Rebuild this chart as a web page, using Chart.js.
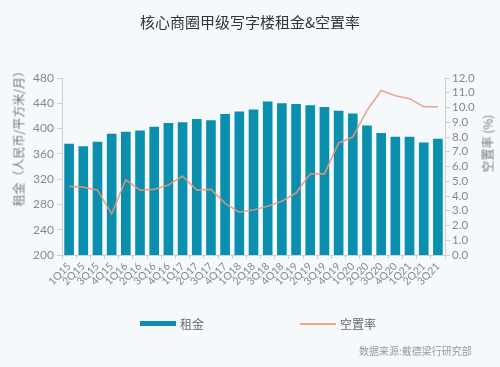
<!DOCTYPE html>
<html>
<head>
<meta charset="utf-8">
<script src="https://cdn.jsdelivr.net/npm/chart.js@4/dist/chart.umd.min.js"></script>
<style>
  html, body { margin: 0; padding: 0; background: #f5f9fc; }
  #wrap { position: relative; width: 500px; height: 367px; background: #f5f9fc; overflow: hidden; font-family: "Noto Sans CJK SC", "Noto Sans", sans-serif; }
  #c { position: absolute; left: 0; top: 0; }
  .title { position: absolute; left: 0; width: 500px; top: 11px; text-align: center; font-size: 15px; color: #333; }
  .ytl { position: absolute; font-size: 12px; color: #777; white-space: nowrap; transform-origin: center center; }
  .legend { position: absolute; top: 315px; font-size: 12px; color: #666; display: flex; align-items: center; }
  .source { position: absolute; left: 359px; top: 343px; font-size: 10px; color: #999; }
</style>
</head>
<body>
<div id="wrap">
  <canvas id="c" width="500" height="367"></canvas>
  <div class="title">核心商圈甲级写字楼租金&amp;空置率</div>
  <div class="ytl" id="ylt" style="left:-52px; top:128px; width:140px; text-align:center; transform: rotate(-90deg);">租金（人民币/平方米/月）</div>
  <div class="ytl" id="yrt" style="left:457px; top:135px; width:60px; text-align:center; transform: rotate(-90deg);">空置率 (%)</div>
  <div class="legend" style="left:140px;"><span style="display:inline-block;width:36px;height:5px;background:#0a8fae;margin-right:4px;"></span>租金</div>
  <div class="legend" style="left:300px;"><span style="display:inline-block;width:36px;height:2px;background:#f0a586;margin-right:4px;"></span>空置率</div>
  <div class="source">数据来源:戴德梁行研究部</div>
</div>
<script>
const categories = ["1Q15","2Q15","3Q15","4Q15","1Q16","2Q16","3Q16","4Q16","1Q17","2Q17","3Q17","4Q17","1Q18","2Q18","3Q18","4Q18","1Q19","2Q19","3Q19","4Q19","1Q20","2Q20","3Q20","4Q20","1Q21","2Q21","3Q21"];
const rent = [376,372,379,392,395,397,403,409,410,415,413,423,427,430,443,440,439,437,434,428,424,405,393,387,387,378,384];
const vacancy = [4.65,4.6,4.4,2.8,5.1,4.4,4.45,4.75,5.35,4.4,4.45,3.5,2.9,3.05,3.3,3.65,4.2,5.5,5.5,7.6,8.0,9.8,11.15,10.8,10.6,10.05,10.05];
const rentTicks = [200,240,280,320,360,400,440,480];
const vacTicks = [0,1,2,3,4,5,6,7,8,9,10,11,12];

const tickFont = { family: "Lato, 'Open Sans', sans-serif", size: 12 };

new Chart(document.getElementById('c'), {
  data: {
    labels: categories,
    datasets: [
      {
        type: 'line',
        label: '空置率',
        data: vacancy,
        yAxisID: 'y2',
        borderColor: 'rgba(240,150,115,0.85)',
        borderWidth: 1.6,
        pointRadius: 0,
        tension: 0,
        order: 0
      },
      {
        type: 'bar',
        label: '租金',
        data: rent,
        yAxisID: 'y',
        backgroundColor: '#0a8fae',
        categoryPercentage: 0.8,
        barPercentage: 0.85,
        order: 1
      }
    ]
  },
  options: {
    responsive: false,
    animation: false,
    devicePixelRatio: 1,
    layout: { padding: { top: 78, left: 0, right: 0, bottom: 0 } },
    plugins: { legend: { display: false }, tooltip: { enabled: false }, title: { display: false } },
    scales: {
      x: {
        grid: { display: true, drawOnChartArea: false, tickLength: 4, color: '#e3c6cc', offset: true },
        border: { color: '#cfcfcf' },
        ticks: { color: '#888', font: { family: "Lato, 'Open Sans', sans-serif", size: 10.5 }, maxRotation: 45, minRotation: 45, autoSkip: false, padding: 1 },
        afterFit: s => { s.height = 112; }
      },
      y: {
        position: 'left',
        min: 200, max: 480,
        afterBuildTicks: s => { s.ticks = rentTicks.map(v => ({ value: v })); },
        grid: { display: true, drawOnChartArea: false, tickLength: 5, color: '#cfcfcf' },
        border: { color: '#cfcfcf' },
        ticks: { color: '#888', font: tickFont, padding: 3, autoSkip: false },
        afterFit: s => { s.width = 62; }
      },
      y2: {
        position: 'right',
        min: 0, max: 12,
        afterBuildTicks: s => { s.ticks = vacTicks.map(v => ({ value: v })); },
        grid: { display: true, drawOnChartArea: false, tickLength: 5, color: '#cfcfcf' },
        border: { color: '#cfcfcf' },
        ticks: { color: '#888', font: { family: "Lato, 'Open Sans', sans-serif", size: 11.5 }, padding: 2, autoSkip: false, callback: v => Number(v).toFixed(1) },
        afterFit: s => { s.width = 55; }
      }
    }
  }
});
</script>
</body>
</html>
